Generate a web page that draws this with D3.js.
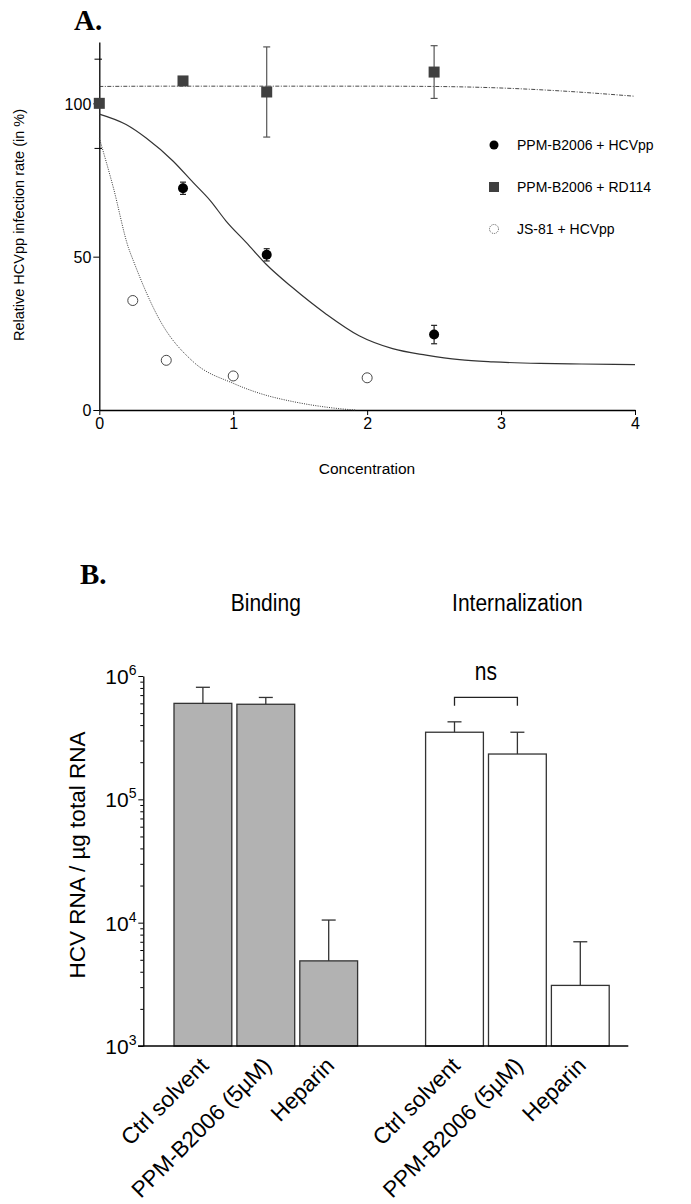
<!DOCTYPE html>
<html><head><meta charset="utf-8">
<script src="https://cdn.jsdelivr.net/npm/d3@7"></script>
<style>
body{margin:0;background:#fff;}
text{font-family:Arial,"Liberation Sans",sans-serif;}
</style></head><body>
<svg id="c" width="691" height="1204"></svg>
<script>
// ---------- Panel A data ----------
const xTicksA = [0,1,2,3,4];
const yTicksA = [0,50,100];
const yMinorA = [85.3,114.4];
const hcvX = [0.625,1.25,2.5];
const hcvY = [72.3,50.6,24.6];
const hcvErr = [2,2,3];
const rdX = [0,0.625,1.25,2.5];
const rdY = [100,107.3,103.7,110.2];
const rdErr = [0,0,14.7,8.6];
const jsX = [0.25,0.5,1.0,2.0];
const jsY = [35.7,16.2,11.1,10.5];
// fitted curves
const fitHcvX = [0,0.2,0.35,0.55,0.7,0.83,0.945,1.1,1.244,1.44,1.69,1.94,2.19,2.44,2.69,2.94,3.29,3.6,4.0];
const fitHcvY = [96.5,93.1,88.7,81.2,74.2,68.2,61.7,54.5,47.6,40,31.4,24.2,20,17.9,16.4,15.7,15.2,15.0,14.8];
const fitRdX = [0,0.5,1,1.5,2,2.5,3,3.5,4];
const fitRdY = [105.5,105.6,105.6,105.6,105.6,105.5,105.0,103.9,102.3];
const fitJsX = [0,0.105,0.217,0.254,0.453,0.702,1.0,1.2,1.45,1.65,1.85,1.91];
const fitJsY = [88.7,72.5,53,48.7,29.2,15.7,8.7,5.4,2.7,1.2,0.2,0];
const legendLabels = ["PPM-B2006 + HCVpp","PPM-B2006 + RD114","JS-81 + HCVpp"];

// ---------- Panel B data ----------
const catsB = ["Ctrl solvent","PPM-B2006 (5µM)","Heparin","","Ctrl solvent ","PPM-B2006 (5µM) ","Heparin "];
const bindVals = [6.0e5,5.9e5,4.9e3];
const bindErr = [8.1e5,6.7e5,1.05e4];
const intVals = [3.5e5,2.33e5,3.1e3];
const intErr = [4.25e5,3.5e5,7.0e3];
const yTicksB = [1e3,1e4,1e5,1e6];
const groupTitles = ["Binding","Internalization"];

const svg = d3.select("#c");

// ================= Panel A =================
const xA = d3.scaleLinear().domain([0,4]).range([99.3,635]);
const yA = d3.scaleLinear().domain([0,120]).range([410,42]);

svg.append("text").attr("x",74).attr("y",30).text("A.")
  .style("font-family","'Times New Roman','Liberation Serif',serif")
  .style("font-weight","bold").style("font-size","29px");

const gxA = svg.append("g").attr("transform","translate(0,410)")
  .call(d3.axisBottom(xA).tickValues(xTicksA).tickSize(5).tickSizeOuter(0).tickPadding(3).tickFormat(d3.format("d")));
gxA.selectAll("text").style("font-size","16px").attr("fill","#000");
const gyA = svg.append("g").attr("transform","translate(99.3,0)")
  .call(d3.axisLeft(yA).tickValues(yTicksA).tickSize(6).tickSizeOuter(0).tickPadding(2));
gyA.selectAll("text").style("font-size","16px").attr("fill","#000").attr("dy","0.36em");
svg.append("g").selectAll("line").data(yMinorA).join("line")
  .attr("x1",94.5).attr("x2",102).attr("y1",d=>yA(d)).attr("y2",d=>yA(d))
  .attr("stroke","#000").attr("stroke-width",1);
[gxA,gyA].forEach(g=>{g.select(".domain").attr("stroke","#000").attr("stroke-width",1.3);g.selectAll(".tick line").attr("stroke","#000");});

svg.append("text").attr("transform","translate(24,225) rotate(-90)").attr("text-anchor","middle")
  .style("font-size","14.5px").text("Relative HCVpp infection rate (in %)");
svg.append("text").attr("x",367).attr("y",474).attr("text-anchor","middle")
  .style("font-size","15.5px").text("Concentration");

const lineA = d3.line().x(d=>xA(d[0])).y(d=>yA(d[1])).curve(d3.curveMonotoneX);
svg.append("path").attr("d",lineA(d3.zip(fitRdX,fitRdY))).attr("fill","none")
  .attr("stroke","#333").attr("stroke-width",0.9).attr("stroke-dasharray","4,1.5,1,1.5");
svg.append("path").attr("d",lineA(d3.zip(fitHcvX,fitHcvY))).attr("fill","none")
  .attr("stroke","#333").attr("stroke-width",1.2);
svg.append("path").attr("d",lineA(d3.zip(fitJsX,fitJsY))).attr("fill","none")
  .attr("stroke","#333").attr("stroke-width",1).attr("stroke-dasharray","1,1.3");

function errBars(xs,ys,es,color,cap){
  const g = svg.append("g").attr("stroke",color).attr("stroke-width",1.2);
  xs.forEach((x,i)=>{
    if(!es[i]) return;
    const cx = xA(x);
    g.append("line").attr("x1",cx).attr("x2",cx).attr("y1",yA(ys[i]-es[i])).attr("y2",yA(ys[i]+es[i]));
    g.append("line").attr("x1",cx-cap).attr("x2",cx+cap).attr("y1",yA(ys[i]+es[i])).attr("y2",yA(ys[i]+es[i]));
    g.append("line").attr("x1",cx-cap).attr("x2",cx+cap).attr("y1",yA(ys[i]-es[i])).attr("y2",yA(ys[i]-es[i]));
  });
}
errBars(rdX,rdY,rdErr,"#555",3.5);
errBars(hcvX,hcvY,hcvErr,"#222",3);

svg.append("g").selectAll("rect").data(d3.zip(rdX,rdY)).join("rect")
  .attr("x",d=>xA(d[0])-5.5).attr("y",d=>yA(d[1])-5.5).attr("width",11).attr("height",11).attr("fill","#404040");
svg.append("g").selectAll("circle").data(d3.zip(hcvX,hcvY)).join("circle")
  .attr("cx",d=>xA(d[0])).attr("cy",d=>yA(d[1])).attr("r",5).attr("fill","#000");
svg.append("g").selectAll("circle").data(d3.zip(jsX,jsY)).join("circle")
  .attr("cx",d=>xA(d[0])).attr("cy",d=>yA(d[1])).attr("r",5).attr("fill","#fff")
  .attr("stroke","#333").attr("stroke-width",0.9);

// legend
const lg = svg.append("g");
legendLabels.forEach((lab,i)=>{
  const y = 145 + i*42;
  if(i===0) lg.append("circle").attr("cx",494).attr("cy",y).attr("r",4.5).attr("fill","#000");
  if(i===1) lg.append("rect").attr("x",489).attr("y",y-5).attr("width",10).attr("height",10).attr("fill","#404040");
  if(i===2) lg.append("circle").attr("cx",494).attr("cy",y).attr("r",4.5).attr("fill","#fff").attr("stroke","#333").attr("stroke-width",0.8).attr("stroke-dasharray","1,1");
  lg.append("text").attr("x",517).attr("y",y+5).style("font-size","14px").text(lab);
});

// ================= Panel B =================
const xB = d3.scaleBand().domain(catsB).range([174,609.2]).paddingInner(0.081).paddingOuter(0);
const yB = d3.scaleLog().domain([1e3,1e6]).range([1046,676]);

svg.append("text").attr("x",80).attr("y",584).text("B.")
  .style("font-family","'Times New Roman','Liberation Serif',serif")
  .style("font-weight","bold").style("font-size","29px");

groupTitles.forEach((t,i)=>{
  const c = xB(catsB[1+i*4]) + xB.bandwidth()/2;
  svg.append("text").attr("x",c).attr("y",611).attr("text-anchor","middle")
    .style("font-size","21px").attr("transform",`translate(0,${-611*0.13}) scale(1,1.13)`).text(t);
});

const bars = [];
bindVals.forEach((v,i)=>bars.push({c:catsB[i],v,e:bindErr[i],fill:"#b2b2b2"}));
intVals.forEach((v,i)=>bars.push({c:catsB[i+4],v,e:intErr[i],fill:"#fff"}));

const gb = svg.append("g");
bars.forEach(b=>{
  const x0 = xB(b.c), cx = x0 + xB.bandwidth()/2;
  gb.append("line").attr("x1",cx).attr("x2",cx).attr("y1",yB(b.v)).attr("y2",yB(b.e)).attr("stroke","#333").attr("stroke-width",1.3);
  gb.append("line").attr("x1",cx-7).attr("x2",cx+7).attr("y1",yB(b.e)).attr("y2",yB(b.e)).attr("stroke","#333").attr("stroke-width",1.3);
  gb.append("rect").attr("x",x0).attr("y",yB(b.v)).attr("width",xB.bandwidth()).attr("height",1046-yB(b.v))
    .attr("fill",b.fill).attr("stroke","#333").attr("stroke-width",1.3);
});

// y axis
const minorB = [];
[1e3,1e4,1e5].forEach(d=>{for(let k=2;k<=9;k++) minorB.push(d*k);});
const gyB = svg.append("g").attr("transform","translate(143.3,0)")
  .call(d3.axisLeft(yB).tickValues(yTicksB).tickSize(5).tickSizeOuter(0).tickFormat(""));
svg.append("g").attr("transform","translate(143.3,0)")
  .call(d3.axisLeft(yB).tickValues(minorB).tickSize(3).tickFormat(""))
  .select(".domain").remove();
gyB.select(".domain").attr("stroke","#000").attr("stroke-width",1.3);
svg.selectAll(".tick line").attr("stroke","#000");
yTicksB.forEach(v=>{
  const t = svg.append("text").attr("x",136.5).attr("y",yB(v)+8).attr("text-anchor","end").style("font-size","21px");
  t.append("tspan").text("10");
  t.append("tspan").attr("dy",-9).style("font-size","14px").text(Math.round(Math.log10(v)));
});
// x axis line
svg.append("line").attr("x1",138).attr("x2",628.3).attr("y1",1046).attr("y2",1046).attr("stroke","#000").attr("stroke-width",1.3);

svg.append("text").attr("transform","translate(85,855) rotate(-90)").attr("text-anchor","middle")
  .style("font-size","22.5px").text("HCV RNA / µg total RNA");

// x labels
catsB.forEach(c=>{
  if(!c) return;
  const cx = xB(c) + xB.bandwidth()/2;
  svg.append("text").attr("transform",`translate(${cx+7},${1067}) rotate(-45)`).attr("text-anchor","end")
    .style("font-size","22.5px").text(c.trim());
});

// ns bracket
const c4 = xB(catsB[4]) + xB.bandwidth()/2, c5 = xB(catsB[5]) + xB.bandwidth()/2;
svg.append("path").attr("d",`M${c4},705.7V697.3H${c5}V705.7`).attr("fill","none").attr("stroke","#222").attr("stroke-width",1.3);
svg.append("text").attr("x",(c4+c5)/2).attr("y",680).attr("text-anchor","middle")
  .style("font-size","21px").attr("transform",`translate(0,${-680*0.25}) scale(1,1.25)`).text("ns");
</script></body></html>
